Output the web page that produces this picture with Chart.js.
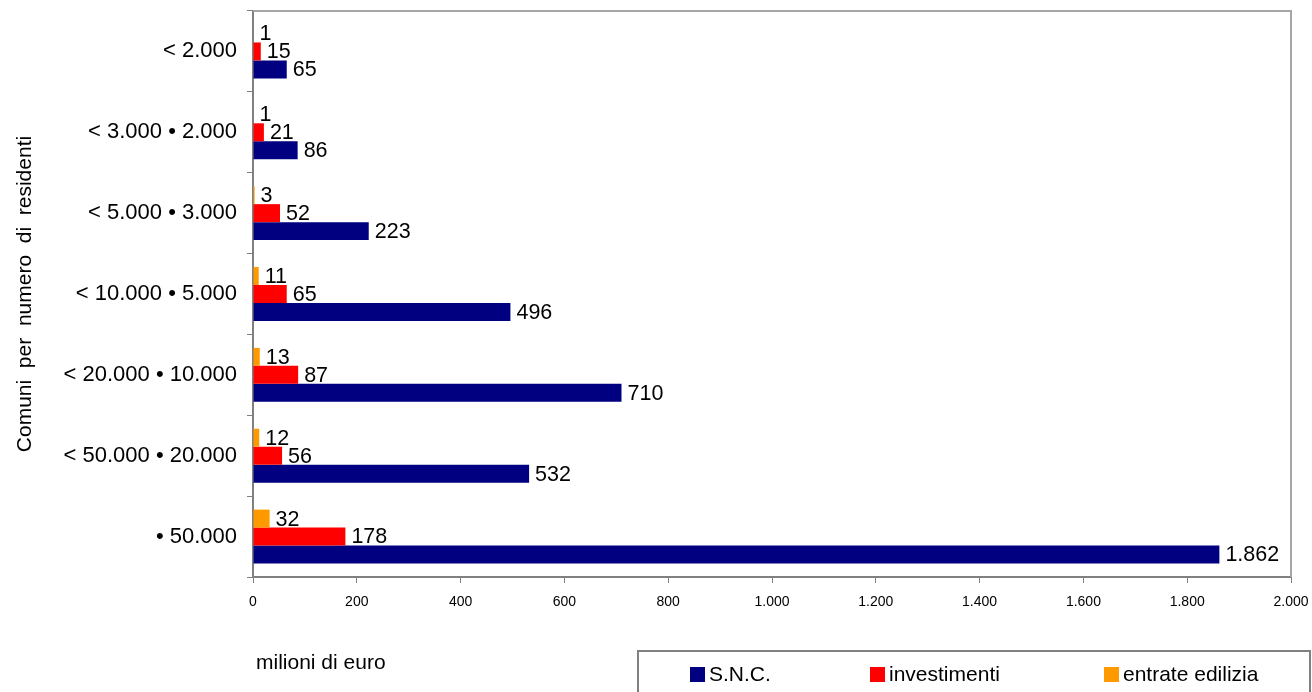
<!DOCTYPE html>
<html lang="it">
<head>
<meta charset="utf-8">
<title>Comuni per numero di residenti</title>
<script src="https://cdn.jsdelivr.net/npm/chart.js@4.4.1/dist/chart.umd.min.js"></script>
<style>
  html, body { margin: 0; padding: 0; background: #fff; }
  #wrap { position: relative; width: 1312px; height: 692px; overflow: hidden; font-family: "Liberation Sans", Arial, sans-serif; }
  #chart { position: absolute; left: 0; top: 0; }
  #unit { position: absolute; left: 256px; top: 650px; font-size: 21px; line-height: 24px; color: #000; }
  #legend { position: absolute; left: 637px; top: 650px; width: 674px; height: 70px; border: 2px solid #808080; box-sizing: border-box; }
  .item { position: absolute; top: 10px; font-size: 21px; line-height: 24px; color: #000; white-space: nowrap; }
  .item i { display: inline-block; width: 15px; height: 15px; margin-right: 4px; vertical-align: -1px; }
</style>
</head>
<body>
<div id="wrap">
  <canvas id="chart" width="1312" height="692"></canvas>
  <div id="unit">milioni di euro</div>
  <div id="legend"></div>
</div>
<script>
const categories = ["< 2.000", "< 3.000 • 2.000", "< 5.000 • 3.000", "< 10.000 • 5.000", "< 20.000 • 10.000", "< 50.000 • 20.000", "• 50.000"];
const snc = [65, 86, 223, 496, 710, 532, 1862];
const investimenti = [15, 21, 52, 65, 87, 56, 178];
const entrateEdilizia = [1, 1, 3, 11, 13, 12, 32];
const xTicks = [0, 200, 400, 600, 800, 1000, 1200, 1400, 1600, 1800, 2000];

const FONT = '"Liberation Sans", Arial, sans-serif';
Chart.defaults.font.family = FONT;
Chart.defaults.color = "#000";

// 1862 -> "1.862"
function fmt(v) {
  return String(v).replace(/\B(?=(\d{3})+(?!\d))/g, ".");
}

// light frame on top and right of the plot area
const framePlugin = {
  id: "frame",
  beforeDatasetsDraw(chart) {
    const { ctx, chartArea: a } = chart;
    ctx.save();
    ctx.strokeStyle = "#a6a6a6";
    ctx.lineWidth = 2;
    ctx.beginPath();
    ctx.moveTo(a.left, a.top);
    ctx.lineTo(a.right, a.top);
    ctx.lineTo(a.right, a.bottom);
    ctx.stroke();
    ctx.restore();
  }
};

// value written just past the end of each bar
const valueLabels = {
  id: "valueLabels",
  afterDatasetsDraw(chart) {
    const { ctx } = chart;
    ctx.save();
    ctx.font = "21.5px " + FONT;
    ctx.fillStyle = "#000";
    ctx.textBaseline = "middle";
    ctx.textAlign = "left";
    chart.data.datasets.forEach((ds, i) => {
      chart.getDatasetMeta(i).data.forEach((bar, j) => {
        ctx.fillText(fmt(ds.data[j]), bar.x + 6, bar.y + 1);
      });
    });
    ctx.restore();
  }
};

const chart = new Chart(document.getElementById("chart"), {
  type: "bar",
  data: {
    labels: categories,
    datasets: [
      { label: "entrate edilizia", data: entrateEdilizia, backgroundColor: "#ff9900" },
      { label: "investimenti", data: investimenti, backgroundColor: "#ff0000" },
      { label: "S.N.C.", data: snc, backgroundColor: "#000080" }
    ]
  },
  options: {
    indexAxis: "y",
    responsive: false,
    animation: false,
    barPercentage: 1,
    categoryPercentage: 0.667,
    layout: { padding: { top: 11, right: 21, bottom: 86, left: 0 } },
    plugins: { legend: { display: false }, tooltip: { enabled: false } },
    scales: {
      x: {
        min: 0,
        max: 2000,
        afterBuildTicks: s => { s.ticks = xTicks.map(v => ({ value: v })); },
        afterFit: s => { s.height = 29; s.paddingLeft = 0; s.paddingRight = 0; },
        grid: { drawOnChartArea: false, drawTicks: true, tickLength: 6, color: "#808080" },
        border: { color: "#808080", width: 2 },
        ticks: { font: { size: 14 }, color: "#000", padding: 11, maxRotation: 0, callback: v => fmt(v) }
      },
      y: {
        afterFit: s => { s.width = 253; s.paddingTop = 0; s.paddingBottom = 0; },
        grid: { drawOnChartArea: false, drawTicks: true, tickLength: 6, color: "#808080", offset: true },
        border: { color: "#808080", width: 2 },
        ticks: { font: { size: 22 }, color: "#000", padding: 10 },
        title: {
          display: true,
          text: "Comuni  per  numero  di  residenti",
          font: { size: 21 },
          color: "#000",
          padding: { top: 13, bottom: 0 }
        }
      }
    }
  },
  plugins: [framePlugin, valueLabels]
});

// legend box: S.N.C., investimenti, entrate edilizia
const legendOrder = [2, 1, 0];
const legendLeft = [51, 231, 465];
const legend = document.getElementById("legend");
legendOrder.forEach((idx, k) => {
  const ds = chart.data.datasets[idx];
  const el = document.createElement("div");
  el.className = "item";
  el.style.left = legendLeft[k] + "px";
  el.innerHTML = '<i style="background:' + ds.backgroundColor + '"></i>' + ds.label;
  legend.appendChild(el);
});
</script>
</body>
</html>
